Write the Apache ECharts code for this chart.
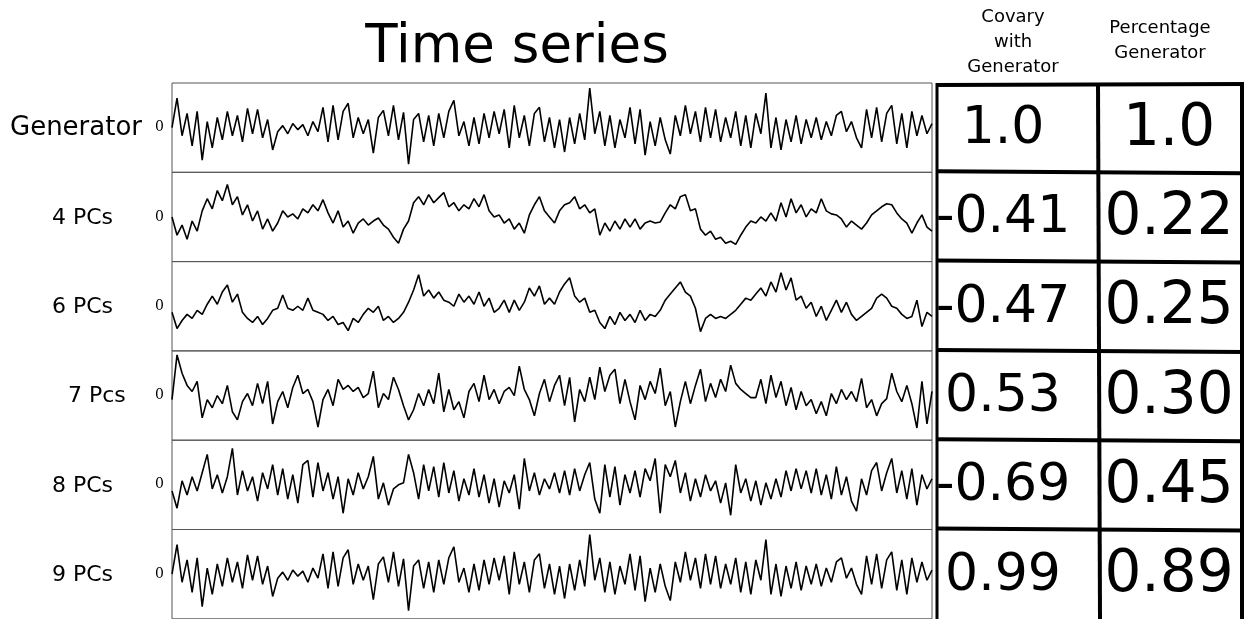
<!DOCTYPE html>
<html>
<head>
<meta charset="utf-8">
<title>Time series</title>
<script src="https://cdn.jsdelivr.net/npm/echarts@6/dist/echarts.min.js"></script>
<style>
  html, body { margin: 0; padding: 0; background: #fff; }
  #chart { width: 1244px; height: 619px; }
</style>
</head>
<body>
<div id="chart"></div>
<script>
// row labels
const rowNames = ["Generator", "4 PCs", "6 PCs", "7 Pcs", "8 PCs", "9 PCs"];

// table values
const covary = ["1.0", "-0.41", "-0.47", "0.53", "-0.69", "0.99"];
const percentage = ["1.0", "0.22", "0.25", "0.30", "0.45", "0.89"];

// series values, one sample every ~5 px
const generator = [
  0, 29, -8, 14, -18, 16, -32, 6, -20, 10,
  -12, 16, -8, 12, -14, 19, -6, 18, -10, 8,
  -22, -4, 2, -6, 4, -2, 3, -8, 6, -4,
  20, -14, 22, -12, 16, 24, -10, 10, -6, 8,
  -25, 10, 17, -8, 22, -12, 15, -36, 8, 14,
  -14, 12, -18, 14, -10, 16, 27, -8, 6, -18,
  10, -16, 14, -10, 16, -6, 18, -20, 22, -10,
  12, -18, 14, 20, -14, 10, -20, 8, -24, 10,
  -16, 14, -12, 39, -6, 16, -18, 12, -20, 8,
  -10, 20, -16, 18, -27, 6, -18, 10, -12, -26,
  12, -8, 22, -6, 16, -14, 20, -10, 18, -14,
  10, -10, 16, -18, 12, -20, 14, -6, 34, -20,
  10, -22, 8, -14, 12, -16, 8, -10, 10, -12,
  6, -8, 12, 16, -4, 6, -10, -20, 18, -10,
  20, -14, 14, 22, -16, 14, -20, 16, -8, 12,
  -6, 4
];
const pcs4 = [
  0, -18, -8, -22, -4, -14, 6, 18, 8, 26,
  16, 32, 12, 20, 2, 12, -4, 6, -12, -2,
  -14, -6, 6, 0, 3, -2, 8, 4, 12, 6,
  17, 4, -6, 6, -10, -4, -16, -6, -2, -8,
  -4, -1, -8, -12, -20, -26, -12, -4, 14, 20,
  12, 22, 14, 19, 24, 10, 14, 6, 12, 8,
  18, 10, 22, 6, 0, 2, -6, -2, -12, -6,
  -16, 2, 12, 20, 6, 0, -6, 6, 12, 14,
  20, 8, 12, 4, 8, -18, -6, -14, -4, -12,
  -2, -10, -2, -12, -6, -4, -6, -5, 4, 12,
  8, 20, 22, 6, 8, -12, -18, -14, -22, -20,
  -26, -24, -27, -18, -10, -4, -6, 0, -4, 4,
  -4, 14, 0, 18, 4, 12, 0, 8, 4, 18,
  6, 3, 2, -2, -10, -4, -8, -12, -6, 2,
  6, 10, 13, 12, 4, -2, -6, -16, -6, 2,
  -10, -14
];
const pcs6 = [
  -6, -22, -14, -8, -12, -4, -8, 2, 10, 2,
  14, 21, 4, 12, -6, -12, -16, -10, -18, -12,
  -4, -2, 11, -2, -4, 0, -4, 8, -4, -6,
  -8, -14, -10, -18, -16, -24, -12, -16, -8, -2,
  -6, 0, -14, -10, -16, -12, -6, 4, 16, 31,
  10, 16, 8, 14, 6, 4, 0, 12, 4, 10,
  2, 14, 0, 8, -6, -2, 6, -6, 6, -4,
  4, 18, 10, 20, 2, 8, 2, 14, 22, 28,
  10, 4, 8, -6, -4, -16, -22, -10, -18, -6,
  -14, -8, -16, -4, -14, -8, -10, -4, 6, 12,
  18, 24, 14, 10, -2, -25, -12, -8, -12, -10,
  -12, -8, -4, 2, 8, 6, 12, 18, 10, 24,
  14, 33, 16, 28, 6, 10, -2, 4, -10, 0,
  -14, -4, 6, -6, 4, -8, -14, -10, -6, -2,
  8, 12, 8, 0, -2, -8, -12, -10, 6, -20,
  -6, -10
];
const pcs7 = [
  -4, 40, 22, 10, 4, 14, -22, -4, -12, 0,
  -8, 10, -16, -24, -6, 2, -10, 12, -8, 14,
  -28, -6, 4, -12, 8, 20, 2, 6, -6, -31,
  -4, 6, -10, 16, 6, 10, 4, 8, -2, 2,
  24, -12, 2, -4, 18, 6, -10, -24, -14, 2,
  -10, 6, -8, 22, -16, 6, -14, -6, -22, 4,
  12, -6, 20, -4, 6, -8, 4, 8, 0, 29,
  6, -4, -20, 2, 16, -6, 10, 20, -10, 18,
  -26, 6, -6, 18, -4, 28, 4, 20, 26, -8,
  16, -6, -24, 10, -4, 14, 2, 27, -10, 4,
  -31, -6, 14, -8, 10, 26, -6, 12, -2, 16,
  4, 30, 12, 6, 2, -2, -2, 16, -8, 20,
  -2, 14, -10, 8, -14, 4, -10, -4, -18, -6,
  -20, 2, -8, 6, -4, 4, -6, 17, -12, -4,
  -20, -8, -3, 22, 4, -6, 10, -8, -32, 14,
  -28, 4
];
const pcs8 = [
  -6, -23, 4, -10, 8, -6, 12, 30, -4, 10,
  -8, 8, 36, -10, 14, -6, 8, -16, 12, -4,
  20, -10, 16, -14, 10, -18, 20, 24, -12, 22,
  -6, 12, -14, 8, -28, 6, -10, 12, -4, 8,
  28, -14, 2, -20, -4, 0, 2, 30, 12, -14,
  20, -6, 18, -12, 22, -8, 14, -16, 6, -10,
  16, -12, 10, -18, 6, -22, 4, -8, 10, -24,
  26, -6, 12, -10, 6, -4, 12, -8, 14, -10,
  16, -6, 10, 22, -14, -28, 20, -12, 18, -20,
  10, -8, 14, -12, 16, 4, 26, -28, 20, 8,
  24, -8, 12, -16, 6, -12, 10, -6, 4, -18,
  2, -30, 20, -8, 6, -16, 4, -20, 2, -14,
  6, -12, 14, -6, 16, -4, 14, -8, 16, -10,
  10, -14, 18, -10, 8, -16, -26, 6, -10, 14,
  22, -6, 12, 26, -8, 14, -14, 16, -20, 10,
  -4, 6
];
const pcs9 = [
  0, 29, -8, 14, -18, 16, -32, 6, -20, 10,
  -12, 16, -8, 12, -14, 19, -6, 18, -10, 8,
  -22, -4, 2, -6, 4, -2, 3, -8, 6, -4,
  20, -14, 22, -12, 16, 24, -10, 10, -6, 8,
  -25, 10, 17, -8, 22, -12, 15, -36, 8, 14,
  -14, 12, -18, 14, -10, 16, 27, -8, 6, -18,
  10, -16, 14, -10, 16, -6, 18, -20, 22, -10,
  12, -18, 14, 20, -14, 10, -20, 8, -24, 10,
  -16, 14, -12, 39, -6, 16, -18, 12, -20, 8,
  -10, 20, -16, 18, -27, 6, -18, 10, -12, -26,
  12, -8, 22, -6, 16, -14, 20, -10, 18, -14,
  10, -10, 16, -18, 12, -20, 14, -6, 34, -20,
  10, -22, 8, -14, 12, -16, 8, -10, 10, -12,
  6, -8, 12, 16, -4, 6, -10, -20, 18, -10,
  20, -14, 14, 22, -16, 14, -20, 16, -8, 12,
  -6, 4
];

const allSeries = [generator, pcs4, pcs6, pcs7, pcs8, pcs9];
const labelX = [10, 52, 52, 68, 52, 52];
const labelSize = [26, 22, 22, 22, 22, 22];

var chartDom = document.getElementById("chart");
var myChart = echarts.init(chartDom);

const panelTop = 83;
const panelH = 89.3;

var grids = [], xAxes = [], yAxes = [], series = [], graphics = [];

allSeries.forEach((vals, i) => {
  const top = panelTop + i * panelH;
  grids.push({
    left: 172,
    width: 760,
    top: top,
    height: panelH,
    show: true,
    borderColor: "#555",
    borderWidth: 1,
  });
  xAxes.push({
    gridIndex: i,
    type: "value",
    min: 0,
    max: vals.length - 1,
    show: false,
  });
  yAxes.push({
    gridIndex: i,
    type: "value",
    min: -44,
    max: 44,
    interval: 44,
    axisLine: { show: false },
    axisTick: { show: false },
    splitLine: { show: false },
    axisLabel: {
      margin: 8,
      color: "#000",
      fontFamily: "DejaVu Serif",
      fontSize: 14,
      formatter: (v) => (v === 0 ? "0" : ""),
    },
  });
  series.push({
    type: "line",
    xAxisIndex: i,
    yAxisIndex: i,
    data: vals.map((v, k) => [k, v]),
    showSymbol: false,
    lineStyle: { color: "#000", width: 1.6 },
    silent: true,
  });

  const cy = top + panelH / 2;

  // row name on the left
  graphics.push({
    type: "text",
    x: labelX[i],
    y: cy + 1,
    style: {
      text: rowNames[i],
      fontFamily: "DejaVu Sans",
      fontSize: labelSize[i],
      fill: "#000",
      verticalAlign: "middle",
    },
  });

  // table cells
  graphics.push({
    type: "text",
    x: 1003,
    y: cy + 2,
    style: {
      text: covary[i],
      fontFamily: "DejaVu Sans",
      fontSize: 52,
      fill: "#000",
      align: "center",
      verticalAlign: "middle",
    },
  });
  graphics.push({
    type: "text",
    x: 1169,
    y: cy + 2,
    style: {
      text: percentage[i],
      fontFamily: "DejaVu Sans",
      fontSize: 58,
      fill: "#000",
      align: "center",
      verticalAlign: "middle",
    },
  });
  if (i > 0) {
    graphics.push({
      type: "line",
      shape: { x1: 936, y1: top - 1, x2: 1244, y2: top + 1 },
      style: { stroke: "#000", lineWidth: 4 },
    });
  }
});

// table frame
graphics.push(
  {
    type: "line",
    shape: { x1: 936, y1: 85, x2: 1244, y2: 84 },
    style: { stroke: "#000", lineWidth: 4 },
  },
  {
    type: "line",
    shape: { x1: 937, y1: 83, x2: 937, y2: 619 },
    style: { stroke: "#000", lineWidth: 3 },
  },
  {
    type: "line",
    shape: { x1: 1098, y1: 83, x2: 1100, y2: 619 },
    style: { stroke: "#000", lineWidth: 4 },
  },
  {
    type: "line",
    shape: { x1: 1242, y1: 83, x2: 1242, y2: 619 },
    style: { stroke: "#000", lineWidth: 4 },
  },
  {
    type: "text",
    x: 1013,
    y: 42,
    style: {
      text: "Covary\nwith\nGenerator",
      fontFamily: "DejaVu Sans",
      fontSize: 18,
      lineHeight: 25,
      fill: "#000",
      align: "center",
      verticalAlign: "middle",
    },
  },
  {
    type: "text",
    x: 1160,
    y: 41,
    style: {
      text: "Percentage\nGenerator",
      fontFamily: "DejaVu Sans",
      fontSize: 18,
      lineHeight: 25,
      fill: "#000",
      align: "center",
      verticalAlign: "middle",
    },
  }
);

var option = {
  animation: false,
  backgroundColor: "#fff",
  title: {
    text: "Time series",
    left: 512,
    top: 17,
    textAlign: "center",
    textStyle: {
      fontFamily: "DejaVu Sans",
      fontWeight: "normal",
      fontSize: 53,
      color: "#000",
    },
  },
  grid: grids,
  xAxis: xAxes,
  yAxis: yAxes,
  series: series,
  graphic: graphics,
};

option && myChart.setOption(option);
</script>
</body>
</html>
